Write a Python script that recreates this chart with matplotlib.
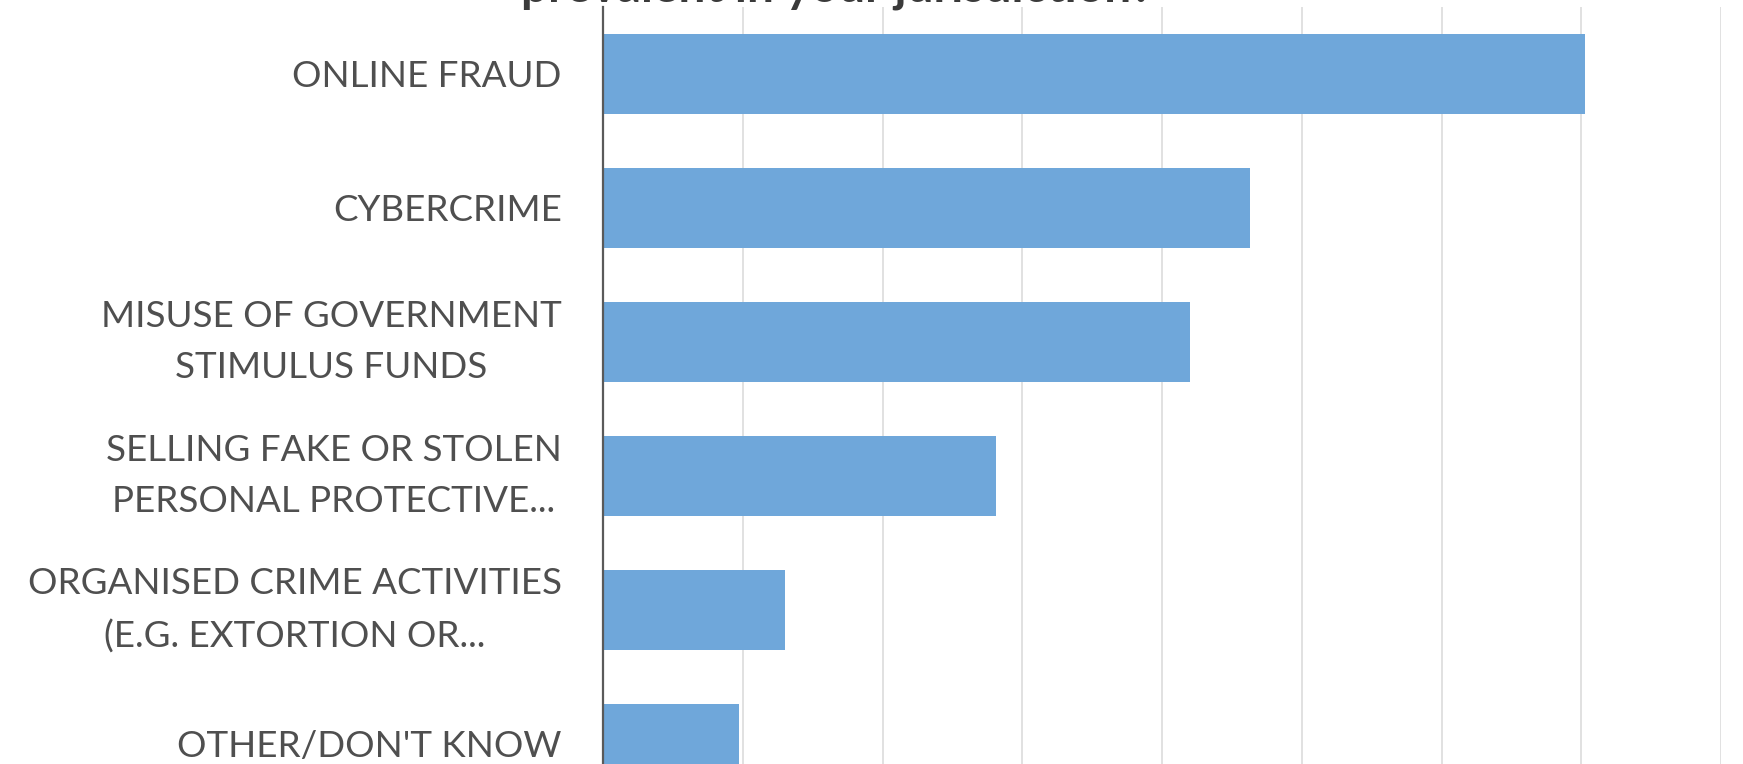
import matplotlib.pyplot as plt

plt.rcParams['font.family'] = ['Lato', 'DejaVu Sans']

categories = [
    "ONLINE FRAUD",
    "CYBERCRIME",
    "MISUSE OF GOVERNMENT\nSTIMULUS FUNDS",
    "SELLING FAKE OR STOLEN\nPERSONAL PROTECTIVE...",
    "ORGANISED CRIME ACTIVITIES\n(E.G. EXTORTION OR...",
    "OTHER/DON'T KNOW",
]
values = [70.3, 46.3, 42.0, 28.1, 13.0, 9.7]
x_ticks = [0, 10, 20, 30, 40, 50, 60, 70, 80]
title = "prevalent in your jurisdiction?"

bar_color = '#6fa7da'
text_color = '#4f4f4f'

fig = plt.figure(figsize=(17.43, 7.64), dpi=100)
ax = fig.add_axes([0.3462, -0.0615, 0.6411, 1.0524])

pos = list(range(len(categories)))
ax.barh(pos, values, height=0.6, color=bar_color, zorder=2)

ax.set_ylim(len(categories) - 0.5, -0.5)
ax.set_xlim(x_ticks[0], x_ticks[-1])
ax.set_xticks(x_ticks)
ax.set_xticklabels([])
ax.tick_params(axis='x', length=0)
ax.grid(axis='x', color='#dcdcdc', linewidth=1.2, zorder=0)

ax.set_yticks(pos)
ax.set_yticklabels(categories, fontsize=26.5, color=text_color, linespacing=1.7)
ax.tick_params(axis='y', length=0, pad=30)
for lbl in ax.get_yticklabels():
    lbl.set_multialignment('center')
    if '\n' in lbl.get_text():
        lbl.set_verticalalignment('center')

for side in ['top', 'right', 'bottom']:
    ax.spines[side].set_visible(False)
ax.spines['left'].set_color('#5a5a5a')
ax.spines['left'].set_linewidth(1.6)
ax.spines['left'].set_zorder(3)

# only the last line of the heading falls inside the frame
fig.text(0.4805, 1 - 2 / 764, title, ha='center', va='baseline',
         fontsize=34.5, fontweight='bold', color='#3a3a3a')

fig.savefig('out.png', dpi=100)
